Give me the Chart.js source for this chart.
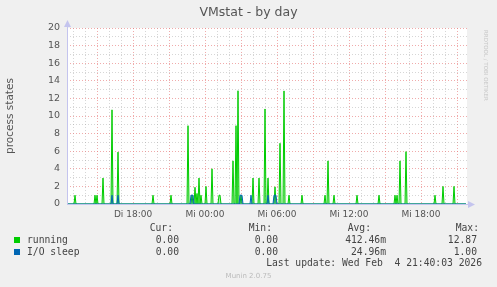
<!DOCTYPE html>
<html>
<head>
<meta charset="utf-8">
<title>VMstat - by day</title>
<script src="https://cdn.jsdelivr.net/npm/chart.js@4.4.1/dist/chart.umd.min.js"></script>
<style>
  html, body { margin: 0; padding: 0; background: #f0f0f0; }
  #wrap { position: relative; width: 497px; height: 287px; overflow: hidden; }
  #chart { position: absolute; left: 0; top: 0; }
  .t { position: absolute; font: 9.7px 'DejaVu Sans Mono', monospace; color: #444; line-height: 12px; white-space: pre; }
  .sq { position: absolute; width: 6px; height: 6px; }
  #munin { position: absolute; left: 0; width: 497px; top: 272px; text-align: center; font: 7px 'DejaVu Sans', sans-serif; color: #bbb; }
  #rrd { position: absolute; left: 483px; top: 30px; writing-mode: vertical-rl; font: 5.5px 'DejaVu Sans', sans-serif; color: #c8c8c8; white-space: pre; }
</style>
</head>
<body>
<div id="wrap">
  <canvas id="chart" width="497" height="287"></canvas>
  <div id="legend"></div>
  <div id="munin">Munin 2.0.75</div>
  <div id="rrd">RRDTOOL / TOBI OETIKER</div>
</div>
<script>
// time axis is in minutes since Di 00:00, one sample every 5 minutes
const xMin = 750;
const xMax = 2750;

const xLabelMinutes = [1080, 1440, 1800, 2160, 2520];
const xLabels = ['Di 18:00', 'Mi 00:00', 'Mi 06:00', 'Mi 12:00', 'Mi 18:00'];

const runningTimes = [
  750, 785, 790, 795, 885, 890, 895, 900, 905, 925, 930, 935,
  970, 975, 980, 1000, 1005, 1010, 1175, 1180, 1185, 1265, 1270, 1275,
  1350, 1355, 1360, 1370, 1375, 1380, 1385, 1390, 1395, 1400, 1405, 1410, 1415, 1420, 1425,
  1440, 1445, 1450, 1470, 1475, 1480, 1505, 1510, 1515, 1520,
  1575, 1580, 1585, 1590, 1595, 1600, 1605, 1610, 1615, 1620, 1625,
  1675, 1680, 1685, 1705, 1710, 1715, 1735, 1740, 1745, 1750, 1755, 1760,
  1785, 1790, 1795, 1810, 1815, 1820, 1830, 1835, 1840, 1855, 1860, 1865,
  1920, 1925, 1930, 2035, 2040, 2045, 2050, 2055, 2060, 2080, 2085, 2090,
  2195, 2200, 2205, 2305, 2310, 2315, 2385, 2390, 2395, 2400, 2405,
  2410, 2415, 2420, 2440, 2445, 2450, 2585, 2590, 2595,
  2625, 2630, 2635, 2680, 2685, 2690, 2745
];
const runningValues = [
  0, 0, 1, 0, 0, 1, 0, 1, 0, 0, 2.95, 0,
  0, 10.7, 0, 0, 5.9, 0, 0, 1, 0, 0, 1, 0,
  0, 8.9, 0, 0, 1, 0, 0, 1.9, 0, 1.2, 0, 2.95, 0, 1, 0,
  0, 2, 0, 0, 4, 0, 0, 1, 1, 0,
  0, 4.9, 0, 0, 8.9, 0, 12.87, 0, 0, 1, 0,
  0, 2.95, 0, 0, 2.95, 0, 0, 10.8, 0, 0, 2.95, 0,
  0, 1.95, 0, 0, 6.9, 0, 0, 12.85, 0, 0, 1, 0,
  0, 1, 0, 0, 1, 0, 0, 4.9, 0, 0, 1, 0,
  0, 1, 0, 0, 1, 0, 0, 1, 0, 1, 0,
  0, 4.9, 0, 0, 5.95, 0, 0, 1, 0,
  0, 2, 0, 0, 2, 0, 0
];

const ioTimes = [
  750, 970, 975, 980, 1000, 1005, 1010, 1365, 1370, 1380, 1385,
  1610, 1615, 1625, 1630, 1665, 1670, 1675, 1750, 1755, 1760,
  1780, 1785, 1795, 1800, 2745
];
const ioValues = [
  0, 0, 1, 0, 0, 1, 0, 0, 1, 1, 0,
  0, 1, 1, 0, 0, 1, 0, 0, 1, 0,
  0, 1, 1, 0, 0
];

const legendRows = ['running', 'I/O sleep'];
const legendColors = ['#00cc00', '#0066b3'];
const curValues = ['0.00', '0.00'];
const minValues = ['0.00', '0.00'];
const avgValues = ['412.46m', '24.96m'];
const maxValues = ['12.87', '1.00'];

const toPoints = (times, values) => times.map((t, i) => ({ x: t, y: values[i] }));

const majorGrid = 'rgba(230, 120, 120, 0.62)';
const minorGrid = 'rgba(165, 165, 165, 0.45)';
const axisColor = '#c4c4ee';

const plotBackground = {
  id: 'plotBackground',
  beforeDraw(chart) {
    const { ctx, chartArea: a } = chart;
    ctx.save();
    ctx.fillStyle = '#ffffff';
    ctx.fillRect(a.left, a.top, a.right - a.left, a.bottom - a.top);
    ctx.restore();
  }
};

const axisArrows = {
  id: 'axisArrows',
  afterDraw(chart) {
    const { ctx, chartArea: a } = chart;
    ctx.save();
    ctx.strokeStyle = axisColor;
    ctx.fillStyle = axisColor;
    ctx.lineWidth = 1;
    ctx.beginPath();
    ctx.moveTo(a.left + 0.5, a.bottom);
    ctx.lineTo(a.left + 0.5, a.top - 3);
    ctx.moveTo(a.left, a.bottom + 0.5);
    ctx.lineTo(a.right + 3, a.bottom + 0.5);
    ctx.stroke();
    ctx.beginPath();
    ctx.moveTo(a.left - 3, a.top - 1);
    ctx.lineTo(a.left + 4, a.top - 1);
    ctx.lineTo(a.left + 0.5, a.top - 8);
    ctx.closePath();
    ctx.fill();
    ctx.beginPath();
    ctx.moveTo(a.right + 1, a.bottom - 3);
    ctx.lineTo(a.right + 1, a.bottom + 4);
    ctx.lineTo(a.right + 8, a.bottom + 0.5);
    ctx.closePath();
    ctx.fill();
    ctx.restore();
  }
};

new Chart(document.getElementById('chart').getContext('2d'), {
  type: 'line',
  data: {
    datasets: [
      {
        label: 'I/O sleep',
        data: toPoints(ioTimes, ioValues),
        borderColor: '#0066b3',
        backgroundColor: 'rgba(0, 102, 179, 0.3)',
        borderWidth: 1,
        fill: 'origin',
        pointRadius: 0,
        tension: 0,
        order: 0,
        clip: 3
      },
      {
        label: 'running',
        data: toPoints(runningTimes, runningValues),
        borderColor: '#00cc00',
        backgroundColor: 'rgba(0, 204, 0, 0.3)',
        borderWidth: 1,
        fill: 'origin',
        pointRadius: 0,
        tension: 0,
        order: 1,
        clip: 3
      }
    ]
  },
  options: {
    responsive: false,
    animation: false,
    events: [],
    layout: { padding: { left: 0, right: 0, top: 0, bottom: 63 } },
    plugins: {
      legend: { display: false },
      tooltip: { enabled: false },
      title: {
        display: true,
        text: 'VMstat - by day',
        color: '#555',
        font: { family: 'DejaVu Sans', size: 12.5, weight: 'normal', lineHeight: 1.28 },
        padding: { top: 5, bottom: 7 }
      }
    },
    scales: {
      x: {
        type: 'linear',
        min: xMin,
        max: xMax,
        afterFit: (scale) => { scale.height = 20; },
        afterBuildTicks: (scale) => {
          const ticks = [];
          for (let m = 780; m < xMax; m += 60) ticks.push({ value: m });
          scale.ticks = ticks;
        },
        border: { display: false, dash: [1, 2] },
        grid: {
          drawTicks: false,
          color: (ctx) => (ctx.tick && ctx.tick.value % 180 === 0 ? majorGrid : minorGrid)
        },
        ticks: {
          autoSkip: false,
          maxRotation: 0,
          padding: 5,
          color: '#555',
          font: { family: 'DejaVu Sans', size: 9 },
          callback: (value) => {
            const i = xLabelMinutes.indexOf(value);
            return i >= 0 ? xLabels[i] : '';
          }
        }
      },
      y: {
        min: 0,
        max: 20,
        afterFit: (scale) => { scale.width = 67; },
        border: { display: false, dash: [1, 2] },
        grid: {
          drawTicks: false,
          color: (ctx) => (ctx.tick && ctx.tick.value % 2 === 0 ? majorGrid : minorGrid)
        },
        ticks: {
          stepSize: 1,
          autoSkip: false,
          padding: 7,
          color: '#555',
          font: { family: 'DejaVu Sans', size: 9.5 },
          callback: (value) => (value % 2 === 0 ? value : '')
        },
        title: {
          display: true,
          text: 'process states',
          color: '#555',
          font: { family: 'DejaVu Sans', size: 10.5 },
          padding: { top: 4, bottom: 0 }
        }
      },
      // empty right-hand box that keeps the plot's right edge at the same place as munin
      spacer: {
        type: 'linear',
        position: 'right',
        display: true,
        afterFit: (scale) => { scale.width = 30; },
        grid: { display: false, drawTicks: false },
        border: { display: false },
        ticks: { display: false }
      }
    }
  },
  plugins: [plotBackground, axisArrows]
});

// legend table below the plot, as in munin
const legend = document.getElementById('legend');
const put = (text, css) => {
  const el = document.createElement('div');
  el.className = 't';
  el.textContent = text;
  Object.assign(el.style, css);
  legend.appendChild(el);
};
put('Cur:', { right: '324px', top: '222px' });
put('Min:', { right: '225px', top: '222px' });
put('Avg:', { right: '126px', top: '222px' });
put('Max:', { right: '18px', top: '222px' });
legendRows.forEach((name, i) => {
  const top = 234 + i * 12;
  const sq = document.createElement('div');
  sq.className = 'sq';
  sq.style.left = '14px';
  sq.style.top = (top + 3) + 'px';
  sq.style.background = legendColors[i];
  legend.appendChild(sq);
  put(name, { left: '27px', top: top + 'px' });
  put(curValues[i], { right: '318px', top: top + 'px' });
  put(minValues[i], { right: '219px', top: top + 'px' });
  put(avgValues[i], { right: '111px', top: top + 'px' });
  put(maxValues[i], { right: '20px', top: top + 'px' });
});
put('Last update: Wed Feb  4 21:40:03 2026', { right: '15px', top: '257px' });
</script>
</body>
</html>
